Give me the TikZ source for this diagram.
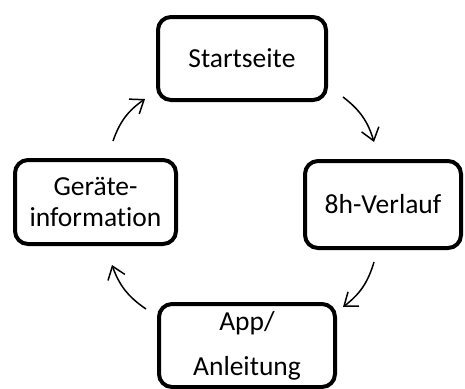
\documentclass[tikz,border=0pt]{standalone}
\usepackage{fontspec}
\setmainfont{Carlito}[RawFeature={-liga,-calt,-dlig}]
\usetikzlibrary{arrows.meta}
\newcommand{\nolig}{\kern0pt{}}
\tikzset{
  box/.style={draw=black, line width=4pt, rounded corners=13pt, fill=white,
    inner sep=0pt, align=center, font=\fontsize{27.5}{31}\selectfont},
  flow/.style={-{Straight Barb[length=12pt,width=18pt,line width=1.5pt]}, line width=1.5pt, bend left=18}
}
\begin{document}
\begin{tikzpicture}[x=1pt,y=-1pt]
\useasboundingbox (0,0) rectangle (465,388);
\node[box, minimum width=168pt, minimum height=83pt] (start) at (242,58.5) {Start\nolig seit\nolig e};
\node[box, minimum width=156pt, minimum height=87pt] (verlauf) at (383,204.5) {8h-Verlauf};
\node[box, minimum width=176pt, minimum height=83pt] (app) at (247,345.5) {App/\\[14pt]Anleit\nolig ung};
\node[box, minimum width=161pt, minimum height=84pt] (geraet) at (95.5,202) {Geräte-\\informat\nolig ion};
\coordinate (a1s) at (113,141); \coordinate (a1e) at (145,99);
\coordinate (a2s) at (343,97);  \coordinate (a2e) at (374,142);
\coordinate (a3s) at (374,262); \coordinate (a3e) at (343,307);
\coordinate (a4s) at (146,309); \coordinate (a4e) at (112,265);
\draw[flow] (a1s) to (a1e);
\draw[flow] (a2s) to (a2e);
\draw[flow] (a3s) to (a3e);
\draw[flow] (a4s) to (a4e);
\end{tikzpicture}
\end{document}
